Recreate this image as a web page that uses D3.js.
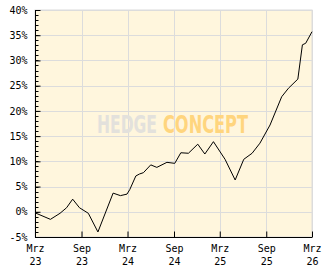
<!DOCTYPE html>
<html>
<head>
<meta charset="utf-8">
<style>
  body { margin: 0; background: #fff; }
  svg text { font-family: "DejaVu Sans Mono", monospace; font-size: 10px; fill: #000; }
</style>
<script src="https://d3js.org/d3.v7.min.js"></script>
</head>
<body>
<script>
// performance series (cumulative %)
var dates = ["2023-03-01","2023-05-01","2023-06-08","2023-07-04","2023-07-28","2023-08-24",
  "2023-09-28","2023-11-05","2024-01-04","2024-02-02","2024-02-28","2024-03-10","2024-04-03",
  "2024-04-18","2024-05-03","2024-06-01","2024-06-25","2024-08-04","2024-09-04","2024-09-28",
  "2024-10-28","2024-12-04","2025-01-01","2025-02-04","2025-03-22","2025-05-01","2025-06-04",
  "2025-07-07","2025-08-07","2025-09-16","2025-11-01","2025-11-28","2026-01-04","2026-01-22",
  "2026-02-04","2026-03-01"];
var values = [-0.2,-1.5,-0.3,0.8,2.5,0.8,
  -0.3,-4.0,3.7,3.2,3.5,4.4,7.1,
  7.5,7.75,9.3,8.8,9.8,9.6,11.7,
  11.6,13.4,11.45,13.9,10.4,6.3,10.4,
  11.6,13.6,17.2,22.8,24.5,26.3,33.1,
  33.4,35.7];
var yTicks = [-5,0,5,10,15,20,25,30,35,40];
var xTicks = ["2023-03-01","2023-09-01","2024-03-01","2024-09-01","2025-03-01","2025-09-01","2026-03-01"];
var monthNames = ["Jan","Feb","Mrz","Apr","Mai","Jun","Jul","Aug","Sep","Okt","Nov","Dez"];

var width = 332, height = 269;
var margin = {top: 10, right: 20, bottom: 32, left: 35};
var parse = d3.timeParse("%Y-%m-%d");

var x = d3.scaleTime()
  .domain([parse("2023-03-01"), parse("2026-03-01")])
  .range([margin.left, width - margin.right]);
var y = d3.scaleLinear()
  .domain([-5, 40])
  .range([height - margin.bottom, margin.top]);

var svg = d3.select("body").append("svg")
  .attr("width", width)
  .attr("height", height);

// plot background
svg.append("rect")
  .attr("x", x.range()[0]).attr("y", y.range()[1])
  .attr("width", x.range()[1] - x.range()[0])
  .attr("height", y.range()[0] - y.range()[1])
  .attr("fill", "#fff6dd")
  .attr("stroke", "#dcdcdc");

// grid
svg.append("g").selectAll("line.h")
  .data(yTicks.slice(1))
  .enter().append("line")
  .attr("x1", x.range()[0]).attr("x2", x.range()[1])
  .attr("y1", function(d){ return Math.round(y(d)) + 0.5; })
  .attr("y2", function(d){ return Math.round(y(d)) + 0.5; })
  .attr("stroke", "#dcdcdc");
svg.append("g").selectAll("line.v")
  .data(xTicks.slice(1))
  .enter().append("line")
  .attr("x1", function(d){ return Math.round(x(parse(d))) + 0.5; })
  .attr("x2", function(d){ return Math.round(x(parse(d))) + 0.5; })
  .attr("y1", y.range()[0]).attr("y2", y.range()[1])
  .attr("stroke", "#dcdcdc");

// watermark (condensed font, stretched vertically)
function mark(px, len, txt, col) {
  svg.append("text")
    .attr("transform", "translate(" + px + ",133) scale(1,1.4)")
    .style("font-family", "'DejaVu Sans Condensed', sans-serif")
    .style("font-weight", "bold")
    .style("font-size", "18px")
    .style("fill", col)
    .attr("textLength", len)
    .attr("lengthAdjust", "spacingAndGlyphs")
    .text(txt);
}
mark(97, 60, "HEDGE", "#e3e1dc");
mark(163, 85, "CONCEPT", "#ffd57e");

// line
var line = d3.line()
  .x(function(d, i){ return x(parse(dates[i])); })
  .y(function(d){ return y(d); });
svg.append("path")
  .datum(values)
  .attr("d", line)
  .attr("fill", "none")
  .attr("stroke", "#000")
  .attr("stroke-width", 1);

// y axis
var yAxis = d3.axisLeft(y)
  .tickValues(yTicks)
  .tickSize(-5)
  .tickPadding(8)
  .tickFormat(function(d){ return d + "%"; });
var gy = svg.append("g")
  .attr("transform", "translate(" + (margin.left + 0.5) + ",0)")
  .call(yAxis);
gy.select(".domain").attr("d", "M0," + y.range()[0] + "V" + y.range()[1]);
gy.selectAll("text").style("font-family", "'DejaVu Sans Mono', monospace").attr("font-size", 10);

// minor ticks every 1%
gy.selectAll("line.minor")
  .data(d3.range(-5, 41))
  .enter().append("line")
  .attr("class", "minor")
  .attr("x1", 0).attr("x2", 3)
  .attr("y1", function(d){ return Math.round(y(d)) + 0.5; })
  .attr("y2", function(d){ return Math.round(y(d)) + 0.5; })
  .attr("stroke", "#000");

// x axis
var xAxis = d3.axisBottom(x)
  .tickValues(xTicks.map(parse))
  .tickSize(-6)
  .tickFormat("");
var gx = svg.append("g")
  .attr("transform", "translate(0," + (y.range()[0] + 0.5) + ")")
  .call(xAxis);
gx.select(".domain").attr("d", "M" + x.range()[0] + ",0H" + x.range()[1]);

gx.selectAll(".tick").each(function(d){
  var t = d3.select(this).append("text")
    .attr("text-anchor", "middle")
    .attr("fill", "#000")
    .style("font-family", "'DejaVu Sans Mono', monospace")
    .attr("font-size", 10);
  t.append("tspan").attr("x", 0).attr("y", 14).text(monthNames[d.getMonth()]);
  t.append("tspan").attr("x", 0).attr("y", 27).text(d3.timeFormat("%y")(d));
});
</script>
</body>
</html>
